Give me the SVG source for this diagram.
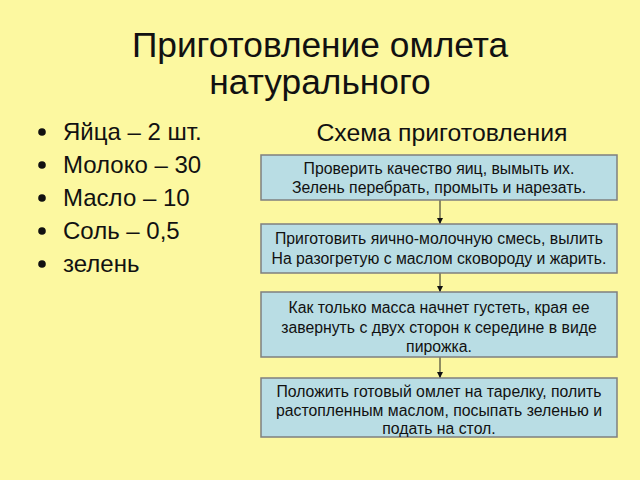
<svg xmlns="http://www.w3.org/2000/svg" width="640" height="480" viewBox="0 0 640 480">
<defs>
<style>
text{font-family:"Liberation Sans",Arial,sans-serif;fill:#111;}
.title{font-size:35.3px;text-anchor:middle;}
.sub{font-size:24.8px;text-anchor:middle;}
.item{font-size:24px;}
.box{fill:#B9DDE4;stroke:#7f7f7f;stroke-width:1.5;}
.bt{font-size:15.8px;text-anchor:middle;}
.conn{stroke:#222;stroke-width:1;fill:none;}
</style>
<marker id="arr" viewBox="0 0 6 6" refX="6" refY="3" markerWidth="6" markerHeight="6" orient="auto" markerUnits="userSpaceOnUse">
<path d="M0,0 L6,3 L0,6 Z" fill="#111"/>
</marker>
</defs>
<rect x="0" y="0" width="640" height="480" fill="#FCF8A0"/>
<g id="title">
<text class="title" x="320" y="57">Приготовление омлета</text>
<text class="title" x="320" y="94">натурального</text>
</g>
<g id="ingredients">
<circle cx="42" cy="132" r="3.8" fill="#111"/>
<text class="item" x="63" y="140">Яйца – 2 шт.</text>
<circle cx="42" cy="165" r="3.8" fill="#111"/>
<text class="item" x="63" y="173">Молоко – 30</text>
<circle cx="42" cy="198" r="3.8" fill="#111"/>
<text class="item" x="63" y="206">Масло – 10</text>
<circle cx="42" cy="231" r="3.8" fill="#111"/>
<text class="item" x="63" y="239">Соль – 0,5</text>
<circle cx="42" cy="264" r="3.8" fill="#111"/>
<text class="item" x="63" y="272">зелень</text>
</g>
<g id="scheme-title">
<text class="sub" x="442" y="141">Схема приготовления</text>
</g>
<g id="connectors">
<line class="conn" x1="440" y1="200" x2="440" y2="224" marker-end="url(#arr)"/>
<line class="conn" x1="440" y1="273" x2="440" y2="292" marker-end="url(#arr)"/>
<line class="conn" x1="440" y1="357" x2="440" y2="378" marker-end="url(#arr)"/>
</g>
<g id="step1">
<rect class="box" x="261" y="155" width="356" height="45"/>
<text class="bt" x="439" y="174">Проверить качество яиц, вымыть их.</text>
<text class="bt" x="439" y="193">Зелень перебрать, промыть и нарезать.</text>
</g>
<g id="step2">
<rect class="box" x="261" y="224" width="356" height="49"/>
<text class="bt" x="439" y="244">Приготовить яично-молочную смесь, вылить </text>
<text class="bt" x="439" y="264">На разогретую с маслом сковороду и жарить.</text>
</g>
<g id="step3">
<rect class="box" x="261" y="292" width="356" height="65"/>
<text class="bt" x="439" y="313">Как только масса начнет густеть, края ее</text>
<text class="bt" x="439" y="333">завернуть с двух сторон к середине в виде</text>
<text class="bt" x="439" y="352">пирожка.</text>
</g>
<g id="step4">
<rect class="box" x="261" y="378" width="356" height="59"/>
<text class="bt" x="439" y="397">Положить готовый омлет на тарелку, полить</text>
<text class="bt" x="439" y="416">растопленным маслом, посыпать зеленью и</text>
<text class="bt" x="439" y="434">подать на стол.</text>
</g>
</svg>
